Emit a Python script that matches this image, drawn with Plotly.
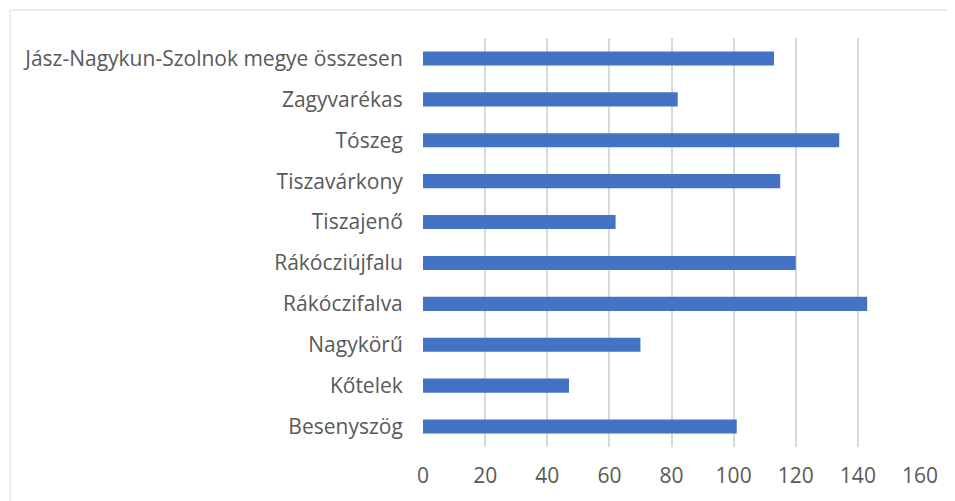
import plotly.graph_objects as go

categories = [
    "Besenyszög", "Kőtelek", "Nagykörű", "Rákóczifalva", "Rákócziújfalu",
    "Tiszajenő", "Tiszavárkony", "Tószeg", "Zagyvarékas",
    "Jász-Nagykun-Szolnok megye összesen",
]
values = [101, 47, 70, 143, 120, 62, 115, 134, 82, 113]
x_ticks = [0, 20, 40, 60, 80, 100, 120, 140, 160]

# page has an 8px body margin; figure sized so it ends at the window edge
W, H = 947, 493
L, R, T, B = 415, 35, 30, 54
pw, ph = W - L - R, H - T - B

fig = go.Figure(go.Bar(
    y=categories, x=values, orientation="h",
    marker=dict(color="#4472C4", line=dict(width=0)),
    width=0.345,
))

font = dict(family="Open Sans", size=21, color="#595959")
fig.update_layout(
    width=W, height=H,
    margin=dict(l=L, r=R, t=T, b=B, autoexpand=False),
    paper_bgcolor="white", plot_bgcolor="white",
    showlegend=False,
    font=font,
    xaxis=dict(range=[0, 160], tickvals=x_ticks, showgrid=True, gridcolor="#d9d9d9",
               gridwidth=1.5, zeroline=False, showline=False, ticks="outside",
               ticklen=10, tickcolor="rgba(0,0,0,0)", tickfont=font, fixedrange=True),
    yaxis=dict(categoryorder="array", categoryarray=categories, range=[-0.5, 9.5],
               showgrid=False, zeroline=False, showline=False, ticks="outside",
               ticklen=15, tickcolor="rgba(0,0,0,0)", tickfont=font, fixedrange=True),
    shapes=[dict(type="rect", xref="paper", yref="paper",
                 x0=(2 - L) / pw, x1=(W + 30 - L) / pw,
                 y0=(H - B - (H + 30)) / ph, y1=(H - B - 2) / ph,
                 line=dict(color="#d9d9d9", width=1), fillcolor="rgba(0,0,0,0)",
                 layer="below")],
)

fig.write_html("out.html")
